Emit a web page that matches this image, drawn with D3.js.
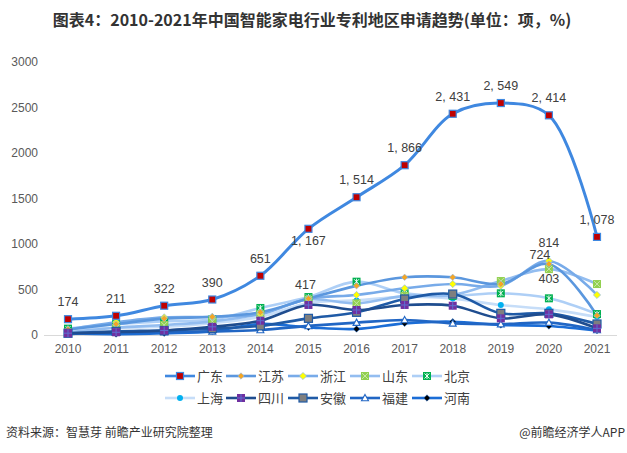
<!DOCTYPE html>
<html><head><meta charset="utf-8">
<script src="https://cdn.jsdelivr.net/npm/d3@7"></script>
<style>
body{margin:0;background:#fff;}
svg{display:block;font-family:"Microsoft YaHei","Noto Sans CJK SC",sans-serif;}
</style></head>
<body><svg id="c" width="627" height="453"></svg>
<script>
const years = [2010,2011,2012,2013,2014,2015,2016,2017,2018,2019,2020,2021];
const yTicks = [0,500,1000,1500,2000,2500,3000];
const guangdong = [174,211,322,390,651,1167,1514,1866,2431,2549,2414,1078];
const jiangsu   = [60,120,180,200,250,400,540,634,634,560,780,215];
const zhejiang  = [60,140,194,200,230,400,440,513,560,542,814,440];
const shandong  = [30,80,110,150,230,390,348,430,440,593,724,560];
const beijing   = [70,120,150,170,297,417,586,458,430,458,403,230];
const shanghai  = [60,80,90,130,200,350,380,420,400,330,282,200];
const sichuan   = [20,30,50,90,157,330,275,330,322,183,227,73];
const anhui     = [20,40,50,70,100,183,249,396,450,238,238,121];
const fujian    = [10,30,30,40,55,100,136,165,128,120,136,55];
const henan     = [20,10,20,40,121,84,66,128,146,110,99,48];
const seriesNames = ["广东","江苏","浙江","山东","北京","上海","四川","安徽","福建","河南"];
const seriesData = [guangdong,jiangsu,zhejiang,shandong,beijing,shanghai,sichuan,anhui,fujian,henan];
const lineColors = ["#3f88e0","#5b97de","#78abe9","#93bdf0","#aecff6","#c6ddf8","#1f4d8f","#1f5aa6","#2166c4","#1b6dd6"];
const markerType = ["sqRed","diaOrange","diaYellow","sqLime","sqGreen","circCyan","sqPurple","sqGray","tri","diaBlack"];

const svg = d3.select("#c");
const x = d3.scalePoint().domain(years).range([68,597]);
const y = d3.scaleLinear().domain([0,3000]).range([335,62]);

svg.append("text").attr("x",312).attr("y",26).attr("text-anchor","middle")
  .attr("font-size",16).attr("font-weight","bold").attr("fill","#333")
  .text("图表4：2010-2021年中国智能家电行业专利地区申请趋势(单位：项，%)");

svg.append("g").selectAll("text").data(yTicks).join("text")
  .attr("x",38).attr("y",d=>y(d)+4).attr("text-anchor","end")
  .attr("font-size",12).attr("fill","#595959").attr("font-family","Arial, Liberation Sans, sans-serif")
  .text(d=>d);
svg.append("line").attr("x1",44).attr("x2",617).attr("y1",335.5).attr("y2",335.5)
  .attr("stroke","#d9d9d9").attr("stroke-width",1);
svg.append("g").selectAll("text").data(years).join("text")
  .attr("x",d=>x(d)).attr("y",353).attr("text-anchor","middle")
  .attr("font-size",12).attr("fill","#595959").attr("font-family","Arial, Liberation Sans, sans-serif")
  .text(d=>d);

const line = d3.line().x((d,i)=>x(years[i])).y(d=>y(d)).curve(d3.curveCatmullRom.alpha(0.5));
const dia = (cx,cy,r)=>`M${cx},${cy-r}L${cx+r},${cy}L${cx},${cy+r}L${cx-r},${cy}Z`;

function marker(g, type, cx, cy){
  if(type==="sqRed"){
    g.append("rect").attr("x",cx-3.5).attr("y",cy-3.5).attr("width",7).attr("height",7)
     .attr("fill","#c00000").attr("stroke","#3f88e0").attr("stroke-width",1.2);
  } else if(type==="diaOrange"){
    g.append("path").attr("d",dia(cx,cy,3.2)).attr("fill","#f5a623").attr("stroke","#8fb8ec").attr("stroke-width",0.6);
  } else if(type==="diaYellow"){
    g.append("path").attr("d",dia(cx,cy,3.6)).attr("fill","#ffff00").attr("stroke","#8fb8ec").attr("stroke-width",0.7);
  } else if(type==="sqLime"){
    g.append("rect").attr("x",cx-4).attr("y",cy-4).attr("width",8).attr("height",8).attr("fill","#92d050");
    g.append("path").attr("d",`M${cx-3},${cy-3}L${cx+3},${cy+3}M${cx+3},${cy-3}L${cx-3},${cy+3}`)
     .attr("stroke","#c5e6a6").attr("stroke-width",1);
  } else if(type==="sqGreen"){
    g.append("rect").attr("x",cx-4).attr("y",cy-4).attr("width",8).attr("height",8).attr("fill","#00b050");
    g.append("path").attr("d",`M${cx-2.5},${cy-2.5}L${cx+2.5},${cy+2.5}M${cx+2.5},${cy-2.5}L${cx-2.5},${cy+2.5}M${cx},${cy-3}L${cx},${cy+3}`)
     .attr("stroke","#fff").attr("stroke-width",0.9);
  } else if(type==="circCyan"){
    g.append("circle").attr("cx",cx).attr("cy",cy).attr("r",3).attr("fill","#00b0f0");
  } else if(type==="sqPurple"){
    g.append("rect").attr("x",cx-4).attr("y",cy-4).attr("width",8).attr("height",8).attr("fill","#7030a0");
    g.append("path").attr("d",`M${cx},${cy-4}L${cx},${cy+4}M${cx-4},${cy}L${cx+4},${cy}`)
     .attr("stroke","#5b6fd0").attr("stroke-width",1);
  } else if(type==="sqGray"){
    g.append("rect").attr("x",cx-4).attr("y",cy-4).attr("width",8).attr("height",8)
     .attr("fill","#7f7f7f").attr("stroke","#1f5aa6").attr("stroke-width",1.2);
  } else if(type==="tri"){
    g.append("path").attr("d",`M${cx},${cy-3.5}L${cx+3.5},${cy+2.8}L${cx-3.5},${cy+2.8}Z`)
     .attr("fill","#fff").attr("stroke","#2166c4").attr("stroke-width",1.1);
  } else if(type==="diaBlack"){
    g.append("path").attr("d",dia(cx,cy,3.2)).attr("fill","#000").attr("stroke","#1b6dd6").attr("stroke-width",0.5);
  }
}

const plot = svg.append("g");
const order = [5,4,3,2,1,9,8,7,6,0];
order.forEach(si=>{
  plot.append("path").datum(seriesData[si]).attr("d",line).attr("fill","none")
    .attr("stroke",lineColors[si]).attr("stroke-width",si===0?3:2.6).attr("stroke-linecap","round");
});
order.forEach(si=>{
  const g = plot.append("g");
  seriesData[si].forEach((v,i)=>marker(g,markerType[si],x(years[i]),y(v)));
});

const fmt = v => v>=1000 ? d3.format(",")(v).replace(",",", ") : String(v);
const lblG = svg.append("g").attr("font-size",12.5).attr("fill","#404040")
  .attr("font-family","Arial, Liberation Sans, sans-serif").attr("text-anchor","middle");
guangdong.forEach((v,i)=>{
  const dy = i===5 ? 16 : -13;
  lblG.append("text").attr("x",x(years[i])).attr("y",y(v)+dy).text(fmt(v));
});
lblG.append("text").attr("x",x(2015)-3).attr("y",y(beijing[5])-8).text(beijing[5]);
lblG.append("text").attr("x",x(2020)).attr("y",y(zhejiang[10])-14).text(zhejiang[10]);
lblG.append("text").attr("x",x(2020)-9).attr("y",y(shandong[10])-10).text(shandong[10]);
lblG.append("text").attr("x",x(2020)).attr("y",y(beijing[10])-15).text(beijing[10]);

const legX = [165,226,288,350,412];
const legY = [376,398];
seriesNames.forEach((n,i)=>{
  const lx = legX[i%5], ly = legY[Math.floor(i/5)];
  const g = svg.append("g");
  g.append("line").attr("x1",lx).attr("x2",lx+30).attr("y1",ly).attr("y2",ly)
    .attr("stroke",lineColors[i]).attr("stroke-width",2.6);
  marker(g,markerType[i],lx+15,ly);
  g.append("text").attr("x",lx+32).attr("y",ly+5).attr("font-size",13).attr("fill","#404040").text(n);
});

svg.append("text").attr("x",6).attr("y",437).attr("font-size",12).attr("fill","#333")
  .text("资料来源：智慧芽 前瞻产业研究院整理");
svg.append("text").attr("x",625).attr("y",437).attr("font-size",12).attr("fill","#333").attr("text-anchor","end")
  .text("@前瞻经济学人APP");
</script></body></html>
